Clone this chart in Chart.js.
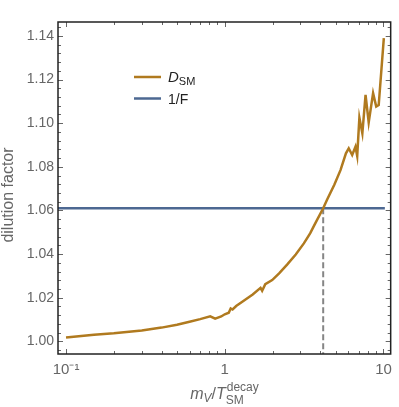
<!DOCTYPE html>
<html>
<head>
<meta charset="utf-8">
<script src="https://cdn.jsdelivr.net/npm/chart.js@4.4.1/dist/chart.umd.min.js"></script>
<style>
  html, body { margin: 0; padding: 0; background: #fff; }
</style>
</head>
<body>
<canvas id="chart" width="399" height="407"></canvas>
<script>
// m_V / T_SM^decay values and the dilution factor D_SM
const massRatio = [0.1, 0.15, 0.2, 0.3, 0.4, 0.5, 0.6, 0.7, 0.81, 0.87, 0.95, 1.0, 1.06, 1.09, 1.12,
    1.18, 1.31, 1.5, 1.68, 1.72, 1.8, 1.99, 2.2, 2.47, 2.8, 3.15, 3.45, 3.73, 4.17, 4.41, 4.9,
    5.36, 5.8, 6.04, 6.35, 6.66, 6.83, 7.05, 7.36, 7.71, 8.07, 8.6, 9.0, 9.33, 10.05];
const dilution = [1.0018, 1.0030, 1.0037, 1.0050, 1.0063, 1.0076, 1.0090, 1.0102, 1.0115, 1.0104, 1.0114, 1.0124, 1.0131, 1.0151, 1.0146,
    1.0162, 1.0185, 1.0215, 1.0245, 1.0232, 1.0262, 1.0281, 1.0312, 1.0352, 1.0398, 1.0449, 1.0495, 1.0543, 1.0610, 1.0649, 1.0718,
    1.0785, 1.0862, 1.0885, 1.0854, 1.0892, 1.0850, 1.1025, 1.0954, 1.1130, 1.1004, 1.1138, 1.1076, 1.1083, 1.1390];

const inverseF = 1.061;
const inverseFRange = [0.089, 10.2];
const crossing = 4.17;

const xMajor = [0.1, 1, 10];
const xMajorLabels = ["10\u207B\u00B9", "1", "10"];
const xMinor = [0.2, 0.3, 0.4, 0.5, 0.6, 0.7, 0.8, 0.9, 2, 3, 4, 5, 6, 7, 8, 9];
const yMajor = [1.00, 1.02, 1.04, 1.06, 1.08, 1.10, 1.12, 1.14];

const xMin = 0.089, xMax = 11.1;
const yMin = 0.9942, yMax = 1.1464;

const orange = "#b07a1f";
const blue = "#4d6892";
const textGray = "#666";
const fontName = "'Liberation Sans', Arial, sans-serif";

// y ticks every 0.004, labels on the majors
const yTicks = [];
for (let i = 0; i <= 37; i++) {
    yTicks.push(Math.round((0.996 + 0.004 * i) * 1000) / 1000);
}

const curve = massRatio.map((m, i) => ({ x: m, y: dilution[i] }));

const frameTicks = {
    id: "frameTicks",
    afterDatasetsDraw(chart) {
        const { ctx, chartArea: a, scales: { x, y } } = chart;
        ctx.save();
        ctx.strokeStyle = "#666";
        ctx.lineWidth = 1;
        ctx.beginPath();
        xMajor.concat(xMinor).forEach(v => {
            const px = Math.round(x.getPixelForValue(v)) + 0.5;
            const len = xMajor.includes(v) ? 5 : 3;
            ctx.moveTo(px, a.bottom); ctx.lineTo(px, a.bottom - len);
            ctx.moveTo(px, a.top); ctx.lineTo(px, a.top + len);
        });
        yTicks.forEach(v => {
            const py = Math.round(y.getPixelForValue(v)) + 0.5;
            const len = yMajor.some(m => Math.abs(m - v) < 1e-6) ? 5 : 3;
            ctx.moveTo(a.left, py); ctx.lineTo(a.left + len, py);
            ctx.moveTo(a.right, py); ctx.lineTo(a.right - len, py);
        });
        ctx.stroke();
        ctx.strokeStyle = "#222";
        ctx.lineWidth = 1.5;
        ctx.strokeRect(a.left, a.top, a.right - a.left, a.bottom - a.top);
        ctx.restore();
    },
    afterDraw(chart) {
        const { ctx } = chart;
        ctx.save();
        ctx.fillStyle = textGray;
        ctx.textBaseline = "alphabetic";

        // y title
        ctx.save();
        ctx.translate(9, 195);
        ctx.rotate(-Math.PI / 2);
        ctx.textAlign = "center";
        ctx.textBaseline = "middle";
        ctx.font = "16px " + fontName;
        ctx.fillText("dilution factor", 0, 0);
        ctx.restore();

        // x title: m_V / T_SM^decay
        ctx.textAlign = "left";
        const big = "italic 16px " + fontName;
        const up = "16px " + fontName;
        const small = "12px " + fontName;
        const smallIt = "italic 12px " + fontName;
        const w = (f, s) => { ctx.font = f; return ctx.measureText(s).width; };
        const total = w(big, "m") + w(smallIt, "V") + w(up, "/") + w(big, "T") + Math.max(w(small, "decay"), w(small, "SM"));
        let cx = 224 - total / 2;
        const base = 399;
        ctx.font = big; ctx.fillText("m", cx, base); cx += w(big, "m");
        ctx.font = smallIt; ctx.fillText("V", cx, base + 3); cx += w(smallIt, "V");
        ctx.font = up; ctx.fillText("/", cx, base); cx += w(up, "/");
        ctx.font = big; ctx.fillText("T", cx, base); cx += w(big, "T");
        ctx.font = small; ctx.fillText("decay", cx + 1, base - 8); ctx.fillText("SM", cx, base + 5);

        // legend
        ctx.lineWidth = 2.5;
        ctx.strokeStyle = orange;
        ctx.beginPath(); ctx.moveTo(134, 77); ctx.lineTo(161, 77); ctx.stroke();
        ctx.strokeStyle = blue;
        ctx.beginPath(); ctx.moveTo(134, 98.5); ctx.lineTo(161, 98.5); ctx.stroke();
        ctx.fillStyle = "#222";
        ctx.font = "italic 15px " + fontName;
        ctx.fillText("D", 168, 82);
        const dw = ctx.measureText("D").width;
        ctx.font = "11px " + fontName;
        ctx.fillText("SM", 168 + dw, 85);
        ctx.font = "14px " + fontName;
        ctx.fillText("1/F", 168, 104);
        ctx.restore();
    }
};

const chart = new Chart("chart", {
    type: "scatter",
    data: {
        datasets: [{
            label: "D_SM",
            data: curve,
            showLine: true,
            borderColor: orange,
            borderWidth: 2.5,
            pointRadius: 0,
            tension: 0,
            order: 0
        }, {
            label: "1/F",
            data: inverseFRange.map(v => ({ x: v, y: inverseF })),
            showLine: true,
            borderColor: blue,
            borderWidth: 2.5,
            pointRadius: 0,
            order: 1
        }, {
            label: "crossing",
            data: [{ x: crossing, y: inverseF }, { x: crossing, y: yMin }],
            showLine: true,
            borderColor: "#858585",
            borderWidth: 2,
            borderDash: [6, 3],
            pointRadius: 0,
            order: 2
        }]
    },
    options: {
        responsive: false,
        animation: false,
        layout: { padding: { top: 22, right: 8, left: 0, bottom: 0 } },
        scales: {
            x: {
                type: "logarithmic",
                min: xMin,
                max: xMax,
                grid: { display: false, drawTicks: false },
                border: { display: false },
                afterBuildTicks: scale => {
                    scale.ticks = xMajor.map(v => ({ value: v }));
                },
                afterFit: scale => { scale.height = 53; },
                ticks: {
                    autoSkip: false,
                    maxRotation: 0,
                    padding: 7,
                    color: textGray,
                    font: { family: fontName, size: 15 },
                    callback: v => {
                        const i = xMajor.indexOf(v);
                        return i >= 0 ? xMajorLabels[i] : "";
                    }
                }
            },
            y: {
                min: yMin,
                max: yMax,
                grid: { display: false, drawTicks: false },
                border: { display: false },
                afterBuildTicks: scale => {
                    scale.ticks = yMajor.map(v => ({ value: v }));
                },
                afterFit: scale => { scale.width = 58; },
                ticks: {
                    autoSkip: false,
                    padding: 4,
                    color: textGray,
                    font: { family: fontName, size: 14 },
                    callback: v => v.toFixed(2)
                }
            }
        },
        plugins: {
            legend: { display: false },
            tooltip: { enabled: false }
        }
    },
    plugins: [frameTicks]
});
</script>
</body>
</html>
